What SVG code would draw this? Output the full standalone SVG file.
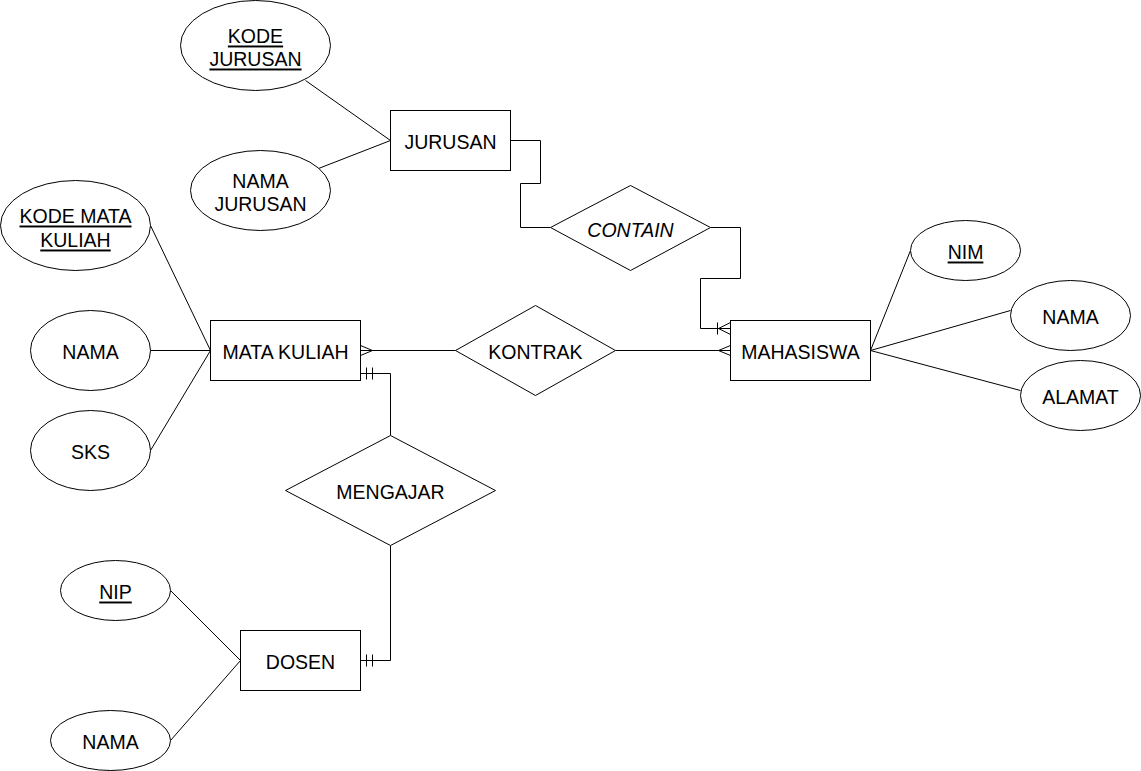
<svg xmlns="http://www.w3.org/2000/svg" width="1141" height="771" viewBox="0 0 1141 771">
<style>
.s{fill:#fff;stroke:#000;stroke-width:1}
.l{fill:none;stroke:#000;stroke-width:1}
text{font-family:"Liberation Sans",Arial,sans-serif;font-size:19.5px;fill:#000;text-anchor:middle;dominant-baseline:central}
.u{text-decoration:underline}
.i{font-style:italic}
</style>
<rect width="1141" height="771" fill="#fff"/>
<g transform="translate(0.5,0.5)">
<g id="connectors">
<path class="l" d="M305,80 L390,140 M318,168 L390,140"/>
<path class="l" d="M150,225 L210,350 M150,350 L210,350 M150,450 L210,350"/>
<path class="l" d="M870,350 L910,250 M870,350 L1010,310 M870,350 L1020,390"/>
<path class="l" d="M170,590 L240,660 M170,740 L240,660"/>
<path class="l" d="M510,140 L540,140 L540,183 L520,183 L520,227 L550,227"/>
<path class="l" d="M710,227 L740,227 L740,278 L700,278 L700,328 L730,328"/>
<path class="l" d="M717,322 L717,334 M718,328 L730,322 M718,328 L730,334"/>
<path class="l" d="M360,350 L455,350 M372,350 L360,345 M372,350 L360,355"/>
<path class="l" d="M615,350 L730,350 M718,350 L730,345 M718,350 L730,355"/>
<path class="l" d="M360,373 L390,373 L390,435 M366,367 L366,379 M372,367 L372,379"/>
<path class="l" d="M390,545 L390,660 L360,660 M366,654 L366,666 M372,654 L372,666"/>
</g>
<g id="kode_jurusan"><ellipse class="s" cx="255" cy="45" rx="75" ry="45"/><text x="255" y="35" class="u">KODE</text><text x="255" y="58" class="u">JURUSAN</text></g>
<g id="nama_jurusan"><ellipse class="s" cx="260" cy="190" rx="70" ry="40"/><text x="260" y="180">NAMA</text><text x="260" y="203">JURUSAN</text></g>
<g id="jurusan"><rect class="s" x="390" y="110" width="120" height="60"/><text x="450" y="141">JURUSAN</text></g>
<g id="contain"><polygon class="s" points="550,227 630,185 710,227 630,270"/><text x="630" y="229" class="i">CONTAIN</text></g>
<g id="kode_mk"><ellipse class="s" cx="75" cy="225" rx="75" ry="45"/><text x="75" y="215" class="u">KODE MATA</text><text x="75" y="239" class="u">KULIAH</text></g>
<g id="nama_mk"><ellipse class="s" cx="90" cy="350" rx="60" ry="40"/><text x="90" y="351">NAMA</text></g>
<g id="sks"><ellipse class="s" cx="90" cy="450" rx="60" ry="40"/><text x="90" y="451">SKS</text></g>
<g id="mata_kuliah"><rect class="s" x="210" y="320" width="150" height="60"/><text x="285" y="351">MATA KULIAH</text></g>
<g id="kontrak"><polygon class="s" points="455,350 535,305 615,350 535,395"/><text x="535" y="351">KONTRAK</text></g>
<g id="mahasiswa"><rect class="s" x="730" y="320" width="140" height="60"/><text x="800" y="351">MAHASISWA</text></g>
<g id="nim"><ellipse class="s" cx="965" cy="250" rx="55" ry="30"/><text x="965" y="251" class="u">NIM</text></g>
<g id="nama_mhs"><ellipse class="s" cx="1070" cy="315" rx="60" ry="35"/><text x="1070" y="316">NAMA</text></g>
<g id="alamat"><ellipse class="s" cx="1080" cy="395" rx="60" ry="35"/><text x="1080" y="396">ALAMAT</text></g>
<g id="mengajar"><polygon class="s" points="285,490 390,435 495,490 390,545"/><text x="390" y="491">MENGAJAR</text></g>
<g id="dosen"><rect class="s" x="240" y="630" width="120" height="60"/><text x="300" y="661">DOSEN</text></g>
<g id="nip"><ellipse class="s" cx="115" cy="590" rx="55" ry="30"/><text x="115" y="591" class="u">NIP</text></g>
<g id="nama_dosen"><ellipse class="s" cx="110" cy="740" rx="60" ry="30"/><text x="110" y="741">NAMA</text></g>
</g>
</svg>
